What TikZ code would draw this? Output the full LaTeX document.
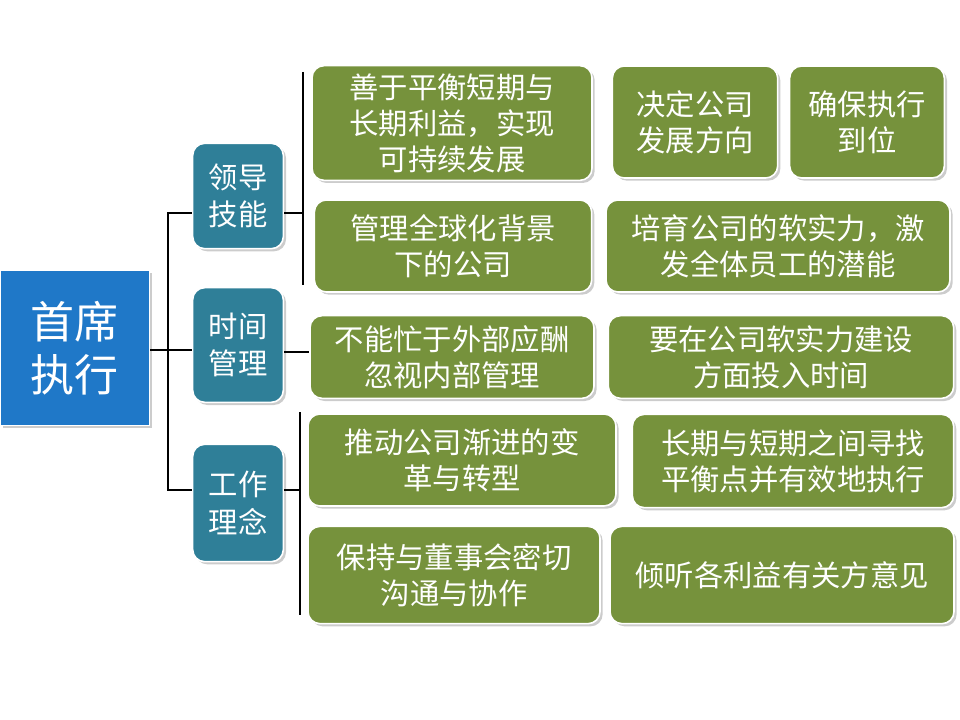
\documentclass[tikz,border=0pt]{standalone}
\usepackage{fontspec}
\setmainfont{Noto Sans CJK SC}
\usetikzlibrary{shadows}
\definecolor{rootblue}{HTML}{1F78C8}
\definecolor{midteal}{HTML}{2F7F98}
\definecolor{leafgreen}{HTML}{76923C}
\tikzset{
  box/.style={draw=white, line width=1.2pt, rounded corners=9pt, text=white, align=center,
    inner sep=0pt, drop shadow={shadow xshift=2pt, shadow yshift=-2pt, opacity=0.4}},
  rootbox/.style={box, fill=rootblue, rounded corners=0pt, font=\fontsize{33}{40}\selectfont},
  midbox/.style={box, fill=midteal, font=\fontsize{22}{28}\selectfont},
  leafbox/.style={box, fill=leafgreen, font=\fontsize{22}{27}\selectfont},
  link/.style={line width=1pt}
}
\begin{document}
\begin{tikzpicture}[x=0.75pt, y=-0.75pt]
  \useasboundingbox (0,0) rectangle (960,720);
  % Hauptknoten
  \node[rootbox, minimum width=112pt, minimum height=116pt] (ceo) at (75,348) {首席\\执行};
  % Bereiche
  \node[midbox, minimum width=68pt, minimum height=79pt] (lead) at (238,196) {领导\\技能};
  \node[midbox, minimum width=68pt, minimum height=86pt] (time) at (238,345) {时间\\管理};
  \node[midbox, minimum width=68pt, minimum height=88pt] (idea) at (238,503) {工作\\理念};
  % Inhalte
  \node[leafbox, minimum width=210pt, minimum height=86pt] (l1) at (452,123) {善于平衡短期与\\长期利益，实现\\可持续发展};
  \node[leafbox, minimum width=124pt, minimum height=84pt] (l2) at (695,122) {决定公司\\发展方向};
  \node[leafbox, minimum width=116pt, minimum height=84pt] (l3) at (867,122) {确保执行\\到位};
  \node[leafbox, minimum width=208pt, minimum height=69pt] (l4) at (453,246) {管理全球化背景\\下的公司};
  \node[leafbox, minimum width=258pt, minimum height=69pt] (l5) at (778,246) {培育公司的软实力，激\\发全体员工的潜能};
  \node[leafbox, minimum width=213pt, minimum height=62pt] (t1) at (452,357) {不能忙于外部应酬\\忽视内部管理};
  \node[leafbox, minimum width=259pt, minimum height=62pt] (t2) at (781,357) {要在公司软实力建设\\方面投入时间};
  \node[leafbox, minimum width=231pt, minimum height=69pt] (i1) at (462,460) {推动公司渐进的变\\革与转型};
  \node[leafbox, minimum width=241pt, minimum height=70pt] (i2) at (793,461) {长期与短期之间寻找\\平衡点并有效地执行};
  \node[leafbox, minimum width=219pt, minimum height=73pt] (i3) at (454,575) {保持与董事会密切\\沟通与协作};
  \node[leafbox, minimum width=258pt, minimum height=73pt] (i4) at (782,575) {倾听各利益有关方意见};
  % Klammern
  \coordinate (c0) at (168,350);
  \draw[link] (ceo.east |- c0) -- (c0);
  \draw[link] (lead.west |- 0,213) -| (c0) |- (idea.west |- 0,490);
  \draw[link] (c0) -- (time.west |- c0);
  \coordinate (c1) at (303,213);
  \draw[link] (lead.east |- c1) -- (c1);
  \draw[link] (303,72) -- (303,285);
  \draw[link] (time.east |- 0,352) -- (t1.west |- 0,352);
  \coordinate (c3) at (300,490);
  \draw[link] (idea.east |- c3) -- (c3);
  \draw[link] (300,412) -- (300,615);
\end{tikzpicture}
\end{document}
